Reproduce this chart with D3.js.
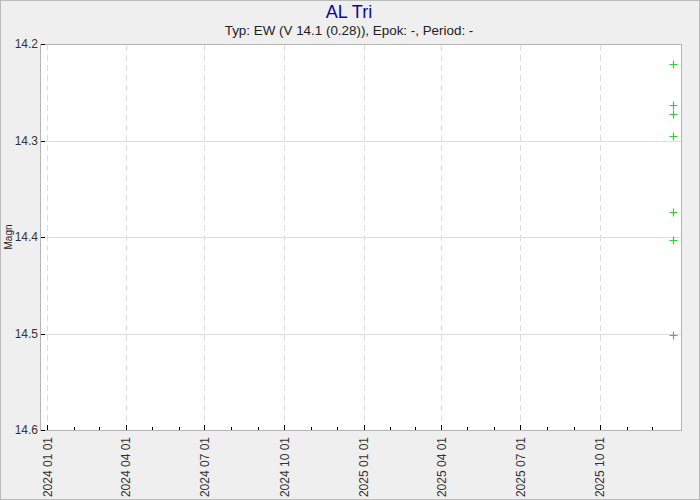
<!DOCTYPE html>
<html>
<head>
<meta charset="utf-8">
<script src="https://cdn.jsdelivr.net/npm/d3@7"></script>
<style>
body { margin: 0; background: #efefef; }
text { font-family: "Liberation Sans", Arial, sans-serif; }
</style>
</head>
<body>
<script>
// observations (date, magnitude)
var obsDates = ["2025-12-25", "2025-12-25", "2025-12-25", "2025-12-25", "2025-12-25", "2025-12-25", "2025-12-25"];
var obsMags = [14.221, 14.2635, 14.273, 14.295, 14.374, 14.403, 14.502];
var magTicks = [14.2, 14.3, 14.4, 14.5, 14.6];

var W = 700, H = 500;
var m = {left: 40, top: 44, right: 19, bottom: 70};

var svg = d3.select("body").append("svg")
  .attr("width", W).attr("height", H);

svg.append("rect") //outer frame
  .attr("x", 0.5).attr("y", 0.5).attr("width", W - 1).attr("height", H - 1)
  .attr("fill", "#efefef").attr("stroke", "#bbbbbb");

var parse = d3.timeParse("%Y-%m-%d");
var x = d3.scaleTime()
  .domain([parse("2023-12-25"), parse("2026-01-03")])
  .range([m.left + 1, W - m.right]);
var y = d3.scaleLinear().domain([14.2, 14.6]).range([m.top, H - m.bottom]);

svg.append("rect")
  .attr("x", m.left + 0.5).attr("y", m.top + 0.5)
  .attr("width", W - m.right - m.left).attr("height", H - m.bottom - m.top)
  .attr("fill", "white");

var quarters = d3.timeMonth.every(3).range(parse("2024-01-01"), parse("2026-01-01"));
var months = d3.timeMonth.range(parse("2024-01-01"), parse("2026-01-01"));

// grid
svg.selectAll(".hg").data(magTicks.slice(1, -1)).enter().append("line")
  .attr("x1", m.left + 1).attr("x2", W - m.right)
  .attr("y1", function(d) { return Math.round(y(d)) + 0.5; })
  .attr("y2", function(d) { return Math.round(y(d)) + 0.5; })
  .attr("stroke", "#dddddd");
svg.selectAll(".vg").data(quarters).enter().append("line")
  .attr("x1", function(d) { return Math.round(x(d)) + 0.5; })
  .attr("x2", function(d) { return Math.round(x(d)) + 0.5; })
  .attr("y1", m.top + 1).attr("y2", H - m.bottom)
  .attr("stroke", "#dddddd").attr("stroke-dasharray", "6,4");

svg.append("rect") //plot border
  .attr("x", m.left + 0.5).attr("y", m.top + 0.5)
  .attr("width", W - m.right - m.left).attr("height", H - m.bottom - m.top)
  .attr("fill", "none").attr("stroke", "#b4b4b4");

// ticks
svg.selectAll(".mt").data(months).enter().append("line")
  .attr("x1", function(d) { return Math.round(x(d)) + 0.5; })
  .attr("x2", function(d) { return Math.round(x(d)) + 0.5; })
  .attr("y1", H - m.bottom)
  .attr("y2", function(d) { return d.getMonth() % 3 == 0 ? H - m.bottom - 5 : H - m.bottom - 3; })
  .attr("stroke", "black");
svg.selectAll(".yt").data(magTicks).enter().append("line")
  .attr("x1", m.left + 1).attr("x2", m.left + 5)
  .attr("y1", function(d) { return Math.round(y(d)) + 0.5; })
  .attr("y2", function(d) { return Math.round(y(d)) + 0.5; })
  .attr("stroke", "black");

// labels
svg.selectAll(".yl").data(magTicks).enter().append("text")
  .attr("x", m.left - 2).attr("y", function(d) { return y(d) + 4; })
  .attr("text-anchor", "end").attr("font-size", 12).attr("fill", "#333")
  .text(function(d) { return d.toFixed(1); });

svg.selectAll(".xl").data(quarters).enter().append("text")
  .attr("transform", function(d) { return "translate(" + (x(d) + 4.5) + "," + (H - m.bottom + 7) + ") rotate(-90)"; })
  .attr("text-anchor", "end").attr("font-size", 12).attr("fill", "#333")
  .text(d3.timeFormat("%Y %m %d"));

svg.append("text")
  .attr("transform", "translate(12," + (y(14.4)) + ") rotate(-90)")
  .attr("text-anchor", "middle").attr("font-size", 10).attr("fill", "#222")
  .text("Magn");

svg.append("text").attr("x", 349).attr("y", 18)
  .attr("text-anchor", "middle").attr("font-size", 18).attr("fill", "#0a0a9a")
  .text("AL Tri");
svg.append("text").attr("x", 349).attr("y", 35)
  .attr("text-anchor", "middle").attr("font-size", 13.4).attr("fill", "#222")
  .text("Typ: EW (V 14.1 (0.28)), Epok: -, Period: -");

// observations
var obs = obsDates.map(function(d, i) { return {t: parse(d), v: obsMags[i]}; });
var g = svg.selectAll(".pt").data(obs).enter().append("g")
  .attr("transform", function(d) { return "translate(" + (Math.round(x(d.t)) + 0.5) + "," + (Math.round(y(d.v)) + 0.5) + ")"; });
g.append("path").attr("d", "M-4,0H4M0,-4V4")
  .attr("stroke", "#33cc33").attr("stroke-width", 1.2);
</script>
</body>
</html>
